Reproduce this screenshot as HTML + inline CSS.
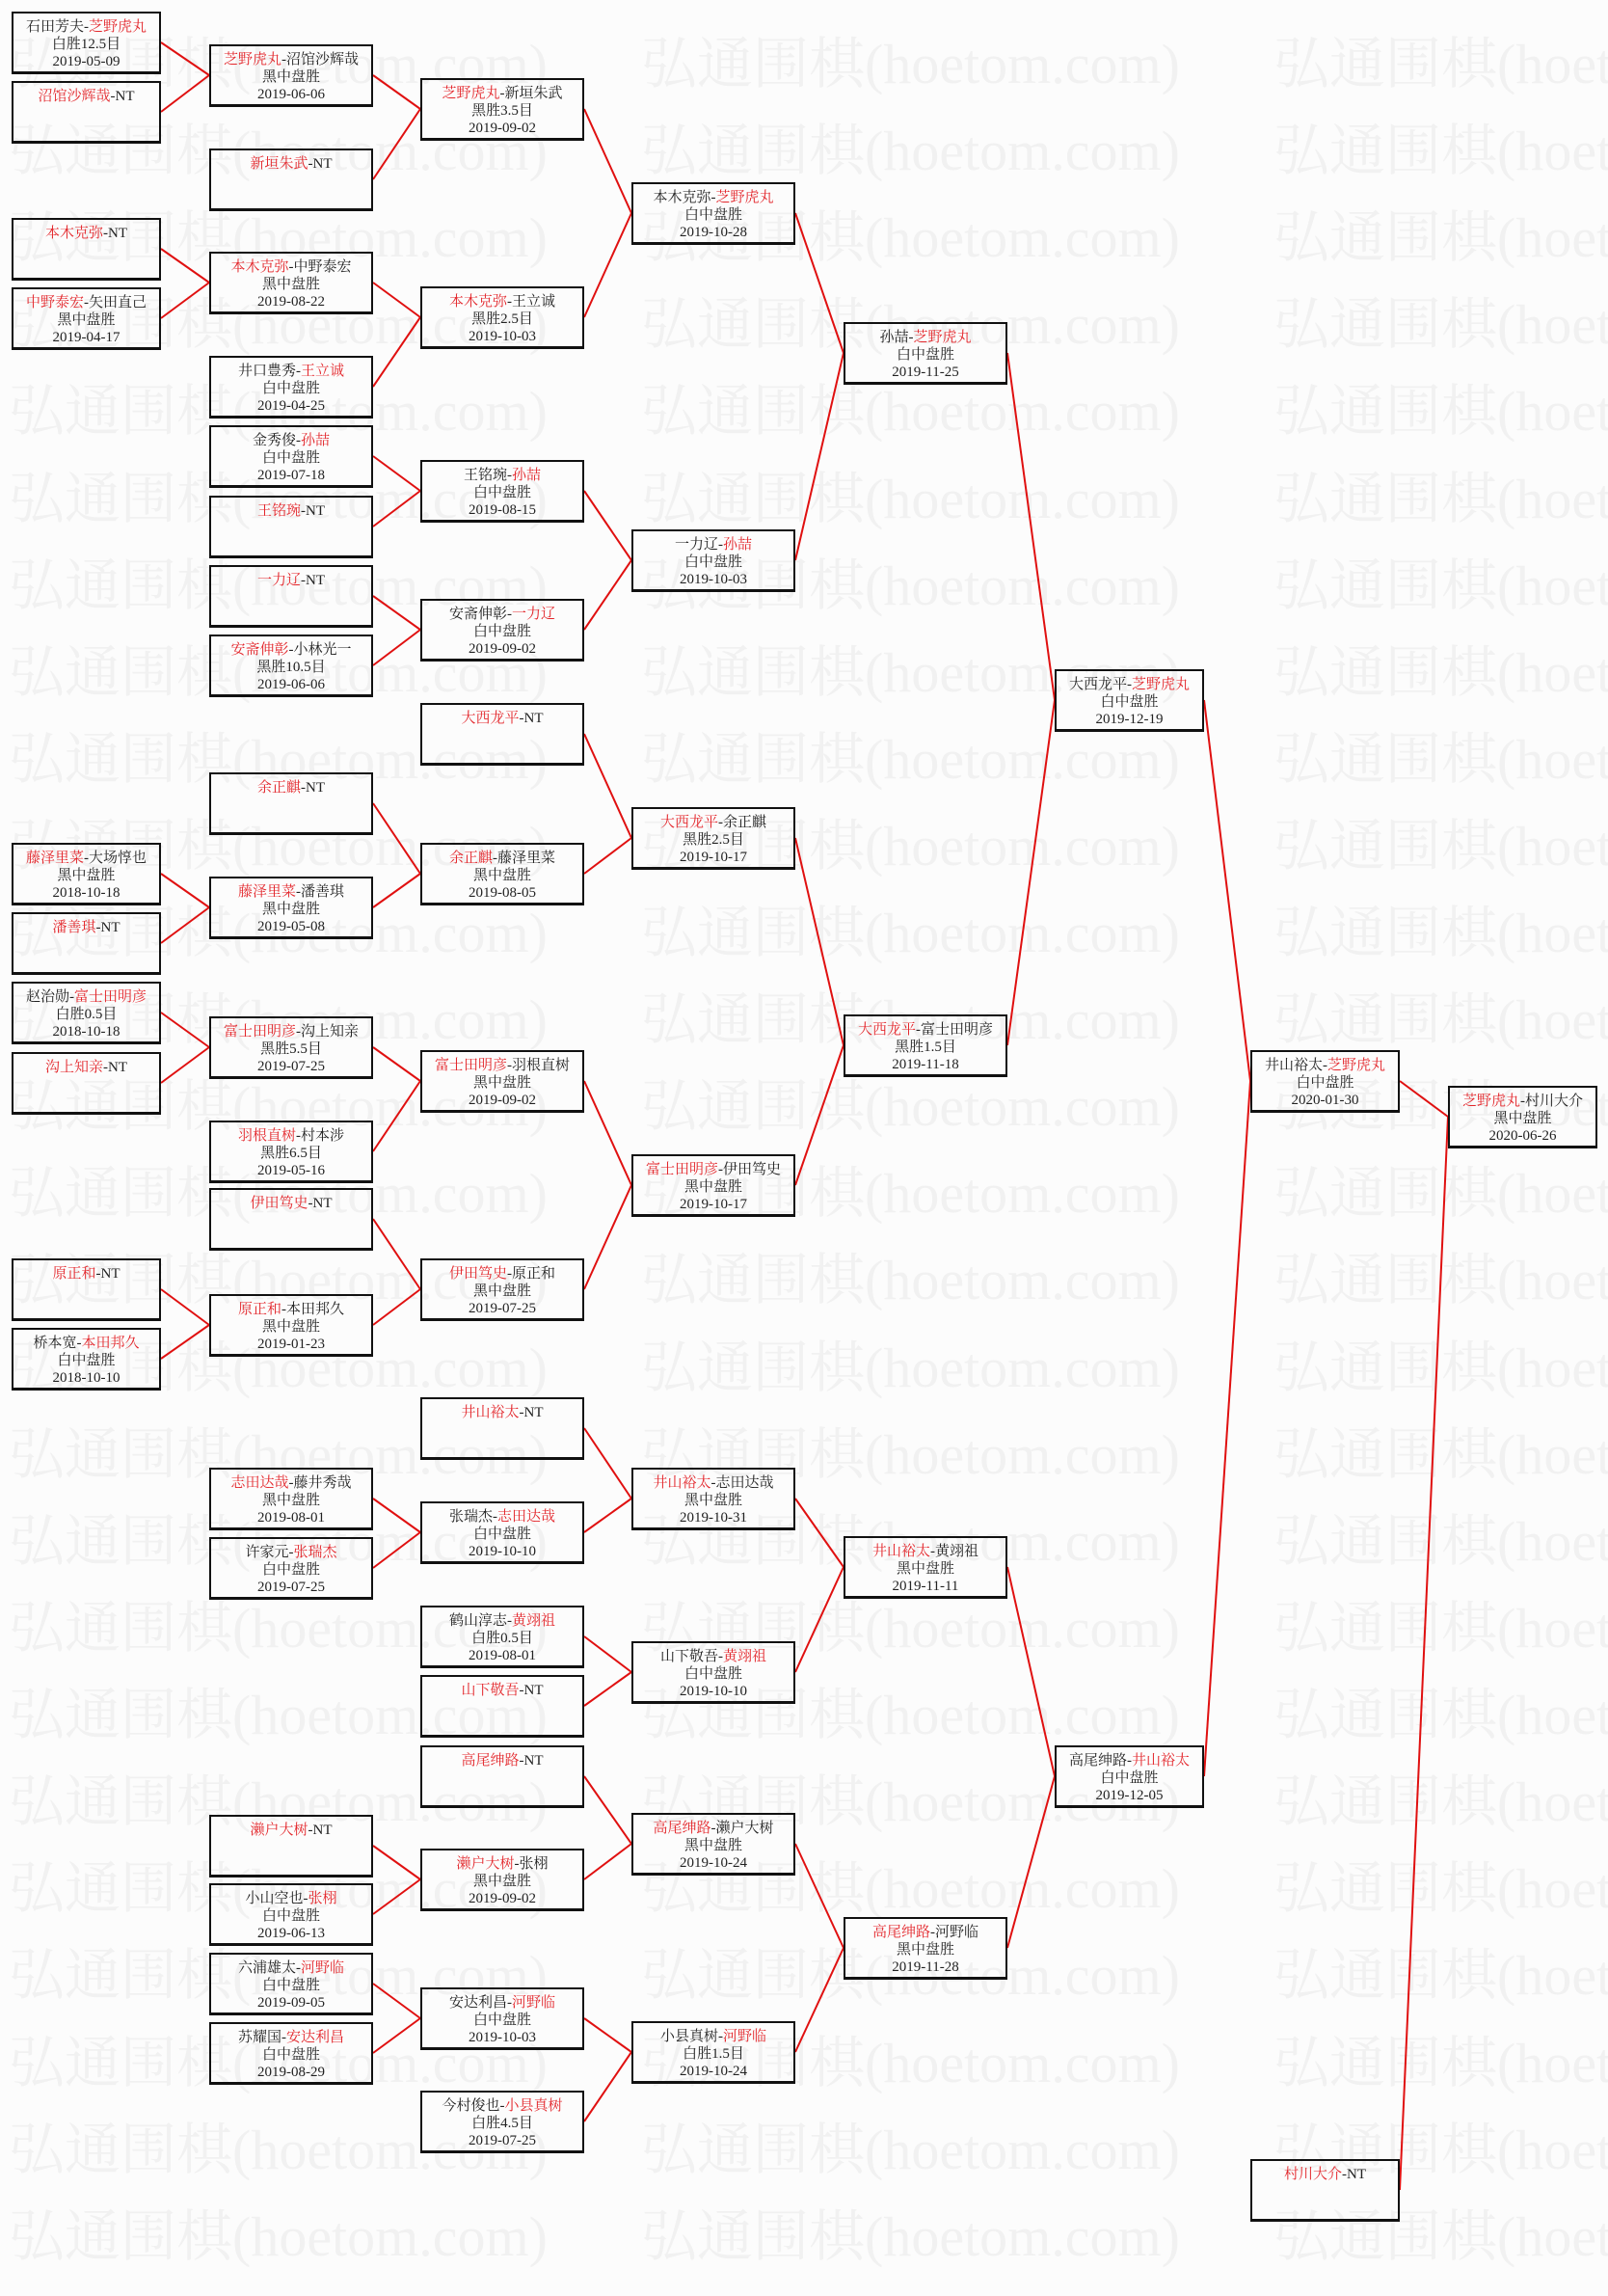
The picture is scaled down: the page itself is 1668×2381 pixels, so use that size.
<!DOCTYPE html>
<html><head><meta charset="utf-8"><style>
html,body{margin:0;padding:0}
body{width:1668px;height:2317px;position:relative;overflow:hidden;background:#fcfcfc;font-family:"Liberation Serif","Noto Serif CJK SC","Noto Sans CJK SC",serif;}
.wm{position:absolute;left:9px;white-space:nowrap;font-size:58px;line-height:80px;height:80px;color:#f1f1f1;font-family:"Liberation Serif","Noto Serif CJK SC",serif;}
.wm span{display:inline-block;width:656px;overflow:hidden}
.b{position:absolute;box-sizing:border-box;height:65px;border:2px solid #111;border-bottom-width:3px;text-align:center;font-size:15px;line-height:18px;padding-top:5px;color:#222;white-space:nowrap}
.c0{left:12px;width:155px}.c1{left:217px;width:170px}.c2{left:436px;width:170px}.c3{left:655px;width:170px}.c4{left:875px;width:170px}.c5{left:1094px;width:155px}.c6{left:1297px;width:155px}.c7{left:1502px;width:155px}
r{color:#e3262b}
svg{position:absolute;left:0;top:0}
</style></head><body>
<div class="wm" style="top:27px"><span>弘通围棋(hoetom.com)</span><span>弘通围棋(hoetom.com)</span><span>弘通围棋(hoetom.com)</span></div>
<div class="wm" style="top:117px"><span>弘通围棋(hoetom.com)</span><span>弘通围棋(hoetom.com)</span><span>弘通围棋(hoetom.com)</span></div>
<div class="wm" style="top:207px"><span>弘通围棋(hoetom.com)</span><span>弘通围棋(hoetom.com)</span><span>弘通围棋(hoetom.com)</span></div>
<div class="wm" style="top:297px"><span>弘通围棋(hoetom.com)</span><span>弘通围棋(hoetom.com)</span><span>弘通围棋(hoetom.com)</span></div>
<div class="wm" style="top:387px"><span>弘通围棋(hoetom.com)</span><span>弘通围棋(hoetom.com)</span><span>弘通围棋(hoetom.com)</span></div>
<div class="wm" style="top:478px"><span>弘通围棋(hoetom.com)</span><span>弘通围棋(hoetom.com)</span><span>弘通围棋(hoetom.com)</span></div>
<div class="wm" style="top:568px"><span>弘通围棋(hoetom.com)</span><span>弘通围棋(hoetom.com)</span><span>弘通围棋(hoetom.com)</span></div>
<div class="wm" style="top:658px"><span>弘通围棋(hoetom.com)</span><span>弘通围棋(hoetom.com)</span><span>弘通围棋(hoetom.com)</span></div>
<div class="wm" style="top:748px"><span>弘通围棋(hoetom.com)</span><span>弘通围棋(hoetom.com)</span><span>弘通围棋(hoetom.com)</span></div>
<div class="wm" style="top:838px"><span>弘通围棋(hoetom.com)</span><span>弘通围棋(hoetom.com)</span><span>弘通围棋(hoetom.com)</span></div>
<div class="wm" style="top:928px"><span>弘通围棋(hoetom.com)</span><span>弘通围棋(hoetom.com)</span><span>弘通围棋(hoetom.com)</span></div>
<div class="wm" style="top:1018px"><span>弘通围棋(hoetom.com)</span><span>弘通围棋(hoetom.com)</span><span>弘通围棋(hoetom.com)</span></div>
<div class="wm" style="top:1108px"><span>弘通围棋(hoetom.com)</span><span>弘通围棋(hoetom.com)</span><span>弘通围棋(hoetom.com)</span></div>
<div class="wm" style="top:1198px"><span>弘通围棋(hoetom.com)</span><span>弘通围棋(hoetom.com)</span><span>弘通围棋(hoetom.com)</span></div>
<div class="wm" style="top:1288px"><span>弘通围棋(hoetom.com)</span><span>弘通围棋(hoetom.com)</span><span>弘通围棋(hoetom.com)</span></div>
<div class="wm" style="top:1379px"><span>弘通围棋(hoetom.com)</span><span>弘通围棋(hoetom.com)</span><span>弘通围棋(hoetom.com)</span></div>
<div class="wm" style="top:1469px"><span>弘通围棋(hoetom.com)</span><span>弘通围棋(hoetom.com)</span><span>弘通围棋(hoetom.com)</span></div>
<div class="wm" style="top:1559px"><span>弘通围棋(hoetom.com)</span><span>弘通围棋(hoetom.com)</span><span>弘通围棋(hoetom.com)</span></div>
<div class="wm" style="top:1649px"><span>弘通围棋(hoetom.com)</span><span>弘通围棋(hoetom.com)</span><span>弘通围棋(hoetom.com)</span></div>
<div class="wm" style="top:1739px"><span>弘通围棋(hoetom.com)</span><span>弘通围棋(hoetom.com)</span><span>弘通围棋(hoetom.com)</span></div>
<div class="wm" style="top:1829px"><span>弘通围棋(hoetom.com)</span><span>弘通围棋(hoetom.com)</span><span>弘通围棋(hoetom.com)</span></div>
<div class="wm" style="top:1919px"><span>弘通围棋(hoetom.com)</span><span>弘通围棋(hoetom.com)</span><span>弘通围棋(hoetom.com)</span></div>
<div class="wm" style="top:2009px"><span>弘通围棋(hoetom.com)</span><span>弘通围棋(hoetom.com)</span><span>弘通围棋(hoetom.com)</span></div>
<div class="wm" style="top:2100px"><span>弘通围棋(hoetom.com)</span><span>弘通围棋(hoetom.com)</span><span>弘通围棋(hoetom.com)</span></div>
<div class="wm" style="top:2190px"><span>弘通围棋(hoetom.com)</span><span>弘通围棋(hoetom.com)</span><span>弘通围棋(hoetom.com)</span></div>
<div class="wm" style="top:2280px"><span>弘通围棋(hoetom.com)</span><span>弘通围棋(hoetom.com)</span><span>弘通围棋(hoetom.com)</span></div>

<svg width="1668" height="2317" stroke="#e01010" stroke-width="2" fill="none">
<line x1="167" y1="44" x2="217" y2="78"/><line x1="167" y1="116" x2="217" y2="78"/>
<line x1="167" y1="258" x2="217" y2="293"/><line x1="167" y1="330" x2="217" y2="293"/>
<line x1="167" y1="906" x2="217" y2="941"/><line x1="167" y1="978" x2="217" y2="941"/>
<line x1="167" y1="1050" x2="217" y2="1086"/><line x1="167" y1="1123" x2="217" y2="1086"/>
<line x1="167" y1="1337" x2="217" y2="1374"/><line x1="167" y1="1409" x2="217" y2="1374"/>
<line x1="387" y1="78" x2="436" y2="113"/><line x1="387" y1="186" x2="436" y2="113"/>
<line x1="387" y1="293" x2="436" y2="329"/><line x1="387" y1="401" x2="436" y2="329"/>
<line x1="387" y1="473" x2="436" y2="509"/><line x1="387" y1="546" x2="436" y2="509"/>
<line x1="387" y1="618" x2="436" y2="653"/><line x1="387" y1="690" x2="436" y2="653"/>
<line x1="387" y1="833" x2="436" y2="906"/><line x1="387" y1="941" x2="436" y2="906"/>
<line x1="387" y1="1086" x2="436" y2="1121"/><line x1="387" y1="1194" x2="436" y2="1121"/>
<line x1="387" y1="1264" x2="436" y2="1337"/><line x1="387" y1="1374" x2="436" y2="1337"/>
<line x1="387" y1="1554" x2="436" y2="1589"/><line x1="387" y1="1626" x2="436" y2="1589"/>
<line x1="387" y1="1914" x2="436" y2="1949"/><line x1="387" y1="1985" x2="436" y2="1949"/>
<line x1="387" y1="2057" x2="436" y2="2093"/><line x1="387" y1="2129" x2="436" y2="2093"/>
<line x1="606" y1="113" x2="655" y2="221"/><line x1="606" y1="329" x2="655" y2="221"/>
<line x1="606" y1="509" x2="655" y2="581"/><line x1="606" y1="653" x2="655" y2="581"/>
<line x1="606" y1="761" x2="655" y2="869"/><line x1="606" y1="906" x2="655" y2="869"/>
<line x1="606" y1="1121" x2="655" y2="1229"/><line x1="606" y1="1337" x2="655" y2="1229"/>
<line x1="606" y1="1481" x2="655" y2="1554"/><line x1="606" y1="1589" x2="655" y2="1554"/>
<line x1="606" y1="1697" x2="655" y2="1734"/><line x1="606" y1="1769" x2="655" y2="1734"/>
<line x1="606" y1="1842" x2="655" y2="1912"/><line x1="606" y1="1949" x2="655" y2="1912"/>
<line x1="606" y1="2093" x2="655" y2="2128"/><line x1="606" y1="2200" x2="655" y2="2128"/>
<line x1="825" y1="221" x2="875" y2="366"/><line x1="825" y1="581" x2="875" y2="366"/>
<line x1="825" y1="869" x2="875" y2="1084"/><line x1="825" y1="1229" x2="875" y2="1084"/>
<line x1="825" y1="1554" x2="875" y2="1625"/><line x1="825" y1="1734" x2="875" y2="1625"/>
<line x1="825" y1="1912" x2="875" y2="2020"/><line x1="825" y1="2128" x2="875" y2="2020"/>
<line x1="1045" y1="366" x2="1094" y2="726"/><line x1="1045" y1="1084" x2="1094" y2="726"/>
<line x1="1045" y1="1625" x2="1094" y2="1842"/><line x1="1045" y1="2020" x2="1094" y2="1842"/>
<line x1="1249" y1="726" x2="1297" y2="1121"/><line x1="1249" y1="1842" x2="1297" y2="1121"/>
<line x1="1452" y1="1121" x2="1502" y2="1158"/><line x1="1452" y1="2271" x2="1502" y2="1158"/>
</svg>

<div class="b c0" style="top:12px">石田芳夫-<r>芝野虎丸</r><br>白胜12.5目<br>2019-05-09</div>
<div class="b c0" style="top:84px"><r>沼馆沙辉哉</r>-NT</div>
<div class="b c0" style="top:226px"><r>本木克弥</r>-NT</div>
<div class="b c0" style="top:298px"><r>中野泰宏</r>-矢田直己<br>黑中盘胜<br>2019-04-17</div>
<div class="b c0" style="top:874px"><r>藤泽里菜</r>-大场惇也<br>黑中盘胜<br>2018-10-18</div>
<div class="b c0" style="top:946px"><r>潘善琪</r>-NT</div>
<div class="b c0" style="top:1018px">赵治勋-<r>富士田明彦</r><br>白胜0.5目<br>2018-10-18</div>
<div class="b c0" style="top:1091px"><r>沟上知亲</r>-NT</div>
<div class="b c0" style="top:1305px"><r>原正和</r>-NT</div>
<div class="b c0" style="top:1377px">桥本宽-<r>本田邦久</r><br>白中盘胜<br>2018-10-10</div>
<div class="b c1" style="top:46px"><r>芝野虎丸</r>-沼馆沙辉哉<br>黑中盘胜<br>2019-06-06</div>
<div class="b c1" style="top:154px"><r>新垣朱武</r>-NT</div>
<div class="b c1" style="top:261px"><r>本木克弥</r>-中野泰宏<br>黑中盘胜<br>2019-08-22</div>
<div class="b c1" style="top:369px">井口豊秀-<r>王立诚</r><br>白中盘胜<br>2019-04-25</div>
<div class="b c1" style="top:441px">金秀俊-<r>孙喆</r><br>白中盘胜<br>2019-07-18</div>
<div class="b c1" style="top:514px"><r>王铭琬</r>-NT</div>
<div class="b c1" style="top:586px"><r>一力辽</r>-NT</div>
<div class="b c1" style="top:658px"><r>安斋伸彰</r>-小林光一<br>黑胜10.5目<br>2019-06-06</div>
<div class="b c1" style="top:801px"><r>余正麒</r>-NT</div>
<div class="b c1" style="top:909px"><r>藤泽里菜</r>-潘善琪<br>黑中盘胜<br>2019-05-08</div>
<div class="b c1" style="top:1054px"><r>富士田明彦</r>-沟上知亲<br>黑胜5.5目<br>2019-07-25</div>
<div class="b c1" style="top:1162px"><r>羽根直树</r>-村本涉<br>黑胜6.5目<br>2019-05-16</div>
<div class="b c1" style="top:1232px"><r>伊田笃史</r>-NT</div>
<div class="b c1" style="top:1342px"><r>原正和</r>-本田邦久<br>黑中盘胜<br>2019-01-23</div>
<div class="b c1" style="top:1522px"><r>志田达哉</r>-藤井秀哉<br>黑中盘胜<br>2019-08-01</div>
<div class="b c1" style="top:1594px">许家元-<r>张瑞杰</r><br>白中盘胜<br>2019-07-25</div>
<div class="b c1" style="top:1882px"><r>濑户大树</r>-NT</div>
<div class="b c1" style="top:1953px">小山空也-<r>张栩</r><br>白中盘胜<br>2019-06-13</div>
<div class="b c1" style="top:2025px">六浦雄太-<r>河野临</r><br>白中盘胜<br>2019-09-05</div>
<div class="b c1" style="top:2097px">苏耀国-<r>安达利昌</r><br>白中盘胜<br>2019-08-29</div>
<div class="b c2" style="top:81px"><r>芝野虎丸</r>-新垣朱武<br>黑胜3.5目<br>2019-09-02</div>
<div class="b c2" style="top:297px"><r>本木克弥</r>-王立诚<br>黑胜2.5目<br>2019-10-03</div>
<div class="b c2" style="top:477px">王铭琬-<r>孙喆</r><br>白中盘胜<br>2019-08-15</div>
<div class="b c2" style="top:621px">安斋伸彰-<r>一力辽</r><br>白中盘胜<br>2019-09-02</div>
<div class="b c2" style="top:729px"><r>大西龙平</r>-NT</div>
<div class="b c2" style="top:874px"><r>余正麒</r>-藤泽里菜<br>黑中盘胜<br>2019-08-05</div>
<div class="b c2" style="top:1089px"><r>富士田明彦</r>-羽根直树<br>黑中盘胜<br>2019-09-02</div>
<div class="b c2" style="top:1305px"><r>伊田笃史</r>-原正和<br>黑中盘胜<br>2019-07-25</div>
<div class="b c2" style="top:1449px"><r>井山裕太</r>-NT</div>
<div class="b c2" style="top:1557px">张瑞杰-<r>志田达哉</r><br>白中盘胜<br>2019-10-10</div>
<div class="b c2" style="top:1665px">鹤山淳志-<r>黄翊祖</r><br>白胜0.5目<br>2019-08-01</div>
<div class="b c2" style="top:1737px"><r>山下敬吾</r>-NT</div>
<div class="b c2" style="top:1810px"><r>高尾绅路</r>-NT</div>
<div class="b c2" style="top:1917px"><r>濑户大树</r>-张栩<br>黑中盘胜<br>2019-09-02</div>
<div class="b c2" style="top:2061px">安达利昌-<r>河野临</r><br>白中盘胜<br>2019-10-03</div>
<div class="b c2" style="top:2168px">今村俊也-<r>小县真树</r><br>白胜4.5目<br>2019-07-25</div>
<div class="b c3" style="top:189px">本木克弥-<r>芝野虎丸</r><br>白中盘胜<br>2019-10-28</div>
<div class="b c3" style="top:549px">一力辽-<r>孙喆</r><br>白中盘胜<br>2019-10-03</div>
<div class="b c3" style="top:837px"><r>大西龙平</r>-余正麒<br>黑胜2.5目<br>2019-10-17</div>
<div class="b c3" style="top:1197px"><r>富士田明彦</r>-伊田笃史<br>黑中盘胜<br>2019-10-17</div>
<div class="b c3" style="top:1522px"><r>井山裕太</r>-志田达哉<br>黑中盘胜<br>2019-10-31</div>
<div class="b c3" style="top:1702px">山下敬吾-<r>黄翊祖</r><br>白中盘胜<br>2019-10-10</div>
<div class="b c3" style="top:1880px"><r>高尾绅路</r>-濑户大树<br>黑中盘胜<br>2019-10-24</div>
<div class="b c3" style="top:2096px">小县真树-<r>河野临</r><br>白胜1.5目<br>2019-10-24</div>
<div class="b c4" style="top:334px">孙喆-<r>芝野虎丸</r><br>白中盘胜<br>2019-11-25</div>
<div class="b c4" style="top:1052px"><r>大西龙平</r>-富士田明彦<br>黑胜1.5目<br>2019-11-18</div>
<div class="b c4" style="top:1593px"><r>井山裕太</r>-黄翊祖<br>黑中盘胜<br>2019-11-11</div>
<div class="b c4" style="top:1988px"><r>高尾绅路</r>-河野临<br>黑中盘胜<br>2019-11-28</div>
<div class="b c5" style="top:694px">大西龙平-<r>芝野虎丸</r><br>白中盘胜<br>2019-12-19</div>
<div class="b c5" style="top:1810px">高尾绅路-<r>井山裕太</r><br>白中盘胜<br>2019-12-05</div>
<div class="b c6" style="top:1089px">井山裕太-<r>芝野虎丸</r><br>白中盘胜<br>2020-01-30</div>
<div class="b c6" style="top:2239px"><r>村川大介</r>-NT</div>
<div class="b c7" style="top:1126px"><r>芝野虎丸</r>-村川大介<br>黑中盘胜<br>2020-06-26</div>
</body></html>
